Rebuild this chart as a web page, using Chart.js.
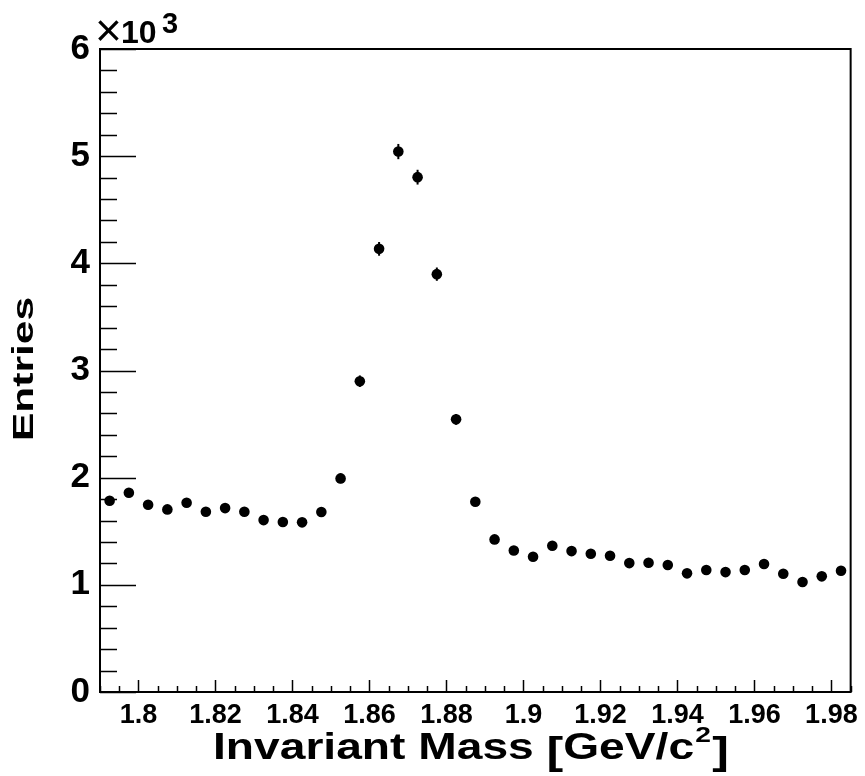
<!DOCTYPE html>
<html>
<head>
<meta charset="utf-8">
<title>Invariant Mass</title>
<script src="https://cdn.jsdelivr.net/npm/chart.js@4.4.1/dist/chart.umd.min.js"></script>
<style>
  html, body { margin: 0; padding: 0; background: #fff; }
  #wrap { width: 865px; height: 776px; position: relative; }
</style>
</head>
<body>
<div id="wrap"><canvas id="myChart" width="865" height="776"></canvas></div>
<script>
// bin centres (GeV/c^2), 0.005 wide bins from 1.79 to 1.985
var binCenters = [1.7925, 1.7975, 1.8025, 1.8075, 1.8125, 1.8175, 1.8225, 1.8275, 1.8325, 1.8375,
                  1.8425, 1.8475, 1.8525, 1.8575, 1.8625, 1.8675, 1.8725, 1.8775, 1.8825, 1.8875,
                  1.8925, 1.8975, 1.9025, 1.9075, 1.9125, 1.9175, 1.9225, 1.9275, 1.9325, 1.9375,
                  1.9425, 1.9475, 1.9525, 1.9575, 1.9625, 1.9675, 1.9725, 1.9775, 1.9825];
// entries per bin
var entries = [1785, 1859, 1747, 1704, 1766, 1682, 1716, 1682, 1604, 1586,
               1583, 1679, 1993, 2900, 4135, 5043, 4804, 3899, 2544, 1775,
               1424, 1321, 1262, 1365, 1315, 1290, 1272, 1203, 1206, 1185,
               1107, 1138, 1119, 1138, 1194, 1104, 1026, 1079, 1132];
// error bar half heights
var errors = [42, 43, 42, 41, 42, 41, 41, 41, 40, 40,
              40, 41, 45, 54, 64, 71, 69, 62, 50, 42,
              38, 36, 36, 37, 36, 36, 36, 35, 35, 34,
              33, 34, 33, 34, 35, 33, 32, 33, 34];
// axis tick labels
var xTicks = [1.8, 1.82, 1.84, 1.86, 1.88, 1.9, 1.92, 1.94, 1.96, 1.98];
var yTicks = [0, 1000, 2000, 3000, 4000, 5000, 6000];

var FONT = '"Liberation Sans", Arial, Helvetica, sans-serif';

var points = binCenters.map(function(x, i) { return { x: x, y: entries[i] }; });

// error bars, drawn through the scales
var errorBars = {
  id: 'errorBars',
  afterDatasetsDraw: function(chart) {
    var ctx = chart.ctx, xs = chart.scales.x, ys = chart.scales.y;
    ctx.save();
    ctx.strokeStyle = '#000';
    ctx.lineWidth = 2;
    for (var i = 0; i < binCenters.length; i++) {
      var px = xs.getPixelForValue(binCenters[i]);
      ctx.beginPath();
      ctx.moveTo(px, ys.getPixelForValue(entries[i] - errors[i]));
      ctx.lineTo(px, ys.getPixelForValue(entries[i] + errors[i]));
      ctx.stroke();
    }
    ctx.restore();
  }
};

// ROOT style frame, inner ticks and titles
var rootFrame = {
  id: 'rootFrame',
  afterDraw: function(chart) {
    var ctx = chart.ctx, a = chart.chartArea, xs = chart.scales.x, ys = chart.scales.y;
    ctx.save();
    ctx.strokeStyle = '#000';
    ctx.fillStyle = '#000';

    // y ticks: major every 1000, minor every 200
    ctx.lineWidth = 1.5;
    ctx.beginPath();
    for (var v = 0; v <= 6000; v += 200) {
      var py = Math.round(ys.getPixelForValue(v)) + 0.5;
      var len = (v % 1000 === 0) ? 36 : 17;
      ctx.moveTo(a.left, py);
      ctx.lineTo(a.left + len, py);
    }
    // x ticks: major every 0.02, minor every 0.005
    for (var k = 0; k <= 39; k++) {
      var xv = 1.79 + k * 0.005;
      var px = Math.round(xs.getPixelForValue(xv)) + 0.5;
      var major = ((k - 2) % 4 === 0);
      ctx.moveTo(px, a.bottom);
      ctx.lineTo(px, a.bottom - (major ? 12 : 6));
    }
    ctx.stroke();

    // frame
    ctx.lineWidth = 2;
    ctx.strokeRect(a.left, a.top, a.right - a.left, a.bottom - a.top);

    // x10^3 multiplier
    ctx.textBaseline = 'alphabetic';
    ctx.textAlign = 'left';
    ctx.font = '46px ' + FONT;
    ctx.fillText('\u00d7', 95, 46);
    ctx.font = 'bold 32px ' + FONT;
    ctx.fillText('10', 121, 43);
    ctx.font = 'bold 29px ' + FONT;
    ctx.fillText('3', 162, 33);

    // y title, stretched along its length like the original
    ctx.save();
    ctx.translate(33, 369);
    ctx.rotate(-Math.PI / 2);
    ctx.font = 'bold 30px ' + FONT;
    var w = ctx.measureText('Entries').width;
    ctx.scale(144 / w, 1);
    ctx.textAlign = 'center';
    ctx.fillText('Entries', 0, 0);
    ctx.restore();

    // x title: text, big brackets and superscript
    ctx.save();
    var part1 = 'Invariant Mass ', part2 = 'GeV/c';
    ctx.font = 'bold 36px ' + FONT;
    var w1 = ctx.measureText(part1).width;
    var w2 = ctx.measureText(part2).width;
    ctx.font = 'bold 39px ' + FONT;
    var wb = ctx.measureText('[').width;
    ctx.font = 'bold 22px ' + FONT;
    var wSup = ctx.measureText('2').width;
    var s = 516 / (w1 + wb + w2 + wSup + 2 + wb);
    ctx.translate(213, 759);
    ctx.scale(s, 1);
    var x = 0;
    ctx.font = 'bold 36px ' + FONT;
    ctx.fillText(part1, x, 0); x += w1;
    ctx.font = 'bold 39px ' + FONT;
    ctx.fillText('[', x, 5); x += wb;
    ctx.font = 'bold 36px ' + FONT;
    ctx.fillText(part2, x, 0); x += w2;
    ctx.font = 'bold 22px ' + FONT;
    ctx.fillText('2', x + 1, -17); x += wSup + 2;
    ctx.font = 'bold 39px ' + FONT;
    ctx.fillText(']', x, 5);
    ctx.restore();

    ctx.restore();
  }
};

var ctx = document.getElementById('myChart').getContext('2d');
var chart = new Chart(ctx, {
  type: 'scatter',
  data: {
    datasets: [{
      label: 'Entries',
      data: points,
      backgroundColor: '#000',
      borderColor: '#000',
      borderWidth: 0,
      pointRadius: 5.3,
      pointHoverRadius: 5.3
    }]
  },
  options: {
    responsive: false,
    animation: false,
    devicePixelRatio: 1,
    layout: { padding: { top: 49, right: 13, left: 0, bottom: 0 } },
    plugins: {
      legend: { display: false },
      tooltip: { enabled: false }
    },
    scales: {
      x: {
        type: 'linear',
        min: 1.79,
        max: 1.985,
        grid: { display: false, drawTicks: false },
        border: { display: false },
        afterBuildTicks: function(scale) {
          scale.ticks = xTicks.map(function(v) { return { value: v }; });
        },
        afterFit: function(scale) { scale.height = 84; },
        ticks: {
          padding: 7,
          maxRotation: 0,
          autoSkip: false,
          color: '#000',
          font: { family: FONT, size: 27, weight: 'bold' },
          callback: function(v) { return String(v); }
        }
      },
      y: {
        type: 'linear',
        min: 0,
        max: 6000,
        grid: { display: false, drawTicks: false },
        border: { display: false },
        afterBuildTicks: function(scale) {
          scale.ticks = yTicks.map(function(v) { return { value: v }; });
        },
        afterFit: function(scale) { scale.width = 100; },
        ticks: {
          padding: 10,
          color: '#000',
          font: { family: FONT, size: 35, weight: 'bold' },
          callback: function(v) { return String(v / 1000); }
        }
      }
    }
  },
  plugins: [errorBars, rootFrame]
});
</script>
</body>
</html>
